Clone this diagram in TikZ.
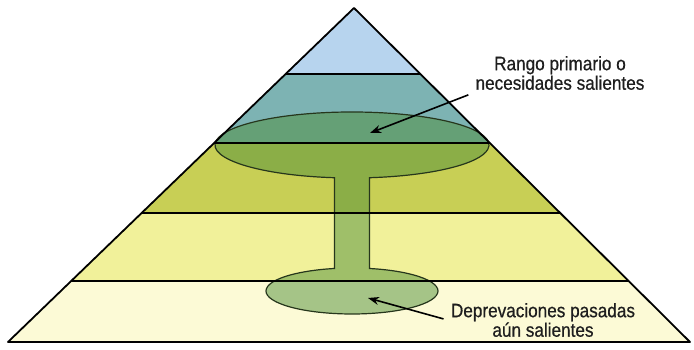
\documentclass[tikz,border=0pt]{standalone}
\usepackage{fontspec}
\setmainfont{Liberation Sans}[FakeStretch=0.88, FakeBold=0.6]
\usepackage{tikz}
\usetikzlibrary{calc, arrows.meta}
\definecolor{capblue}{HTML}{B7D4EE}
\definecolor{tealband}{HTML}{7DB3B3}
\definecolor{oliveband}{HTML}{C8CF55}
\definecolor{yellowband}{HTML}{F1F19A}
\definecolor{creamband}{HTML}{FCFAD6}
\definecolor{cupgreen}{HTML}{4F8F3A}
\definecolor{cupline}{HTML}{26361C}
\definecolor{labelgray}{HTML}{1E1E1E}

\begin{document}
\begin{tikzpicture}[x=1pt,y=1pt,>={Stealth[length=11pt,width=8pt]},
    edge/.style={line width=1.8pt, line join=round},
    cup/.style={fill=cupgreen, fill opacity=0.5, draw=cupline, line width=1.2pt},
    lbl/.style={align=center, text=labelgray, font=\fontsize{19.5}{19.5}\selectfont},
    pointer/.style={->, line width=1.6pt, shorten <=4pt}]
    \useasboundingbox (0,0) rectangle (694,350);
    \coordinate (apex) at (354,342);
    \coordinate (bl) at (8,8);
    \coordinate (br) at (690,8);
    \foreach \t [count=\i] in {0.1826,0.3862,0.5958,0.8024} {
        \coordinate (l\i) at ($(bl)!\t!(apex)$);
        \coordinate (r\i) at ($(br)!\t!(apex)$);
    }

    \fill[creamband] (bl) -- (br) -- (r1) -- (l1) -- cycle;
    \fill[yellowband] (l1) -- (r1) -- (r2) -- (l2) -- cycle;
    \fill[oliveband] (l2) -- (r2) -- (r3) -- (l3) -- cycle;
    \fill[tealband] (l3) -- (r3) -- (r4) -- (l4) -- cycle;
    \fill[capblue] (l4) -- (r4) -- (apex) -- cycle;

    \draw[cup] (352,205) ++(262.66:137 and 33)
        arc[start angle=262.66, end angle=-82.66, x radius=137pt, y radius=33pt]
        -- ($(352,59)+(78.26:86 and 23)$)
        arc[start angle=78.26, end angle=-258.26, x radius=86pt, y radius=23pt]
        -- cycle;

    \foreach \i in {1,...,4}
        \draw[edge] (l\i) -- (r\i);
    \draw[edge] (bl) -- (apex) -- (br) -- cycle;

    \coordinate (rangotip) at (370,217);
    \coordinate (deprtip) at (368,52);
    \node[lbl] (primario) at (560,277) {Rango primario o\\necesidades salientes};
    \node[lbl] (pasadas) at (543,30) {Deprevaciones pasadas\\aún salientes};

    \draw[pointer] (primario.south west) -- (rangotip);
    \draw[pointer] (pasadas.west) -- (deprtip);
\end{tikzpicture}
\end{document}
